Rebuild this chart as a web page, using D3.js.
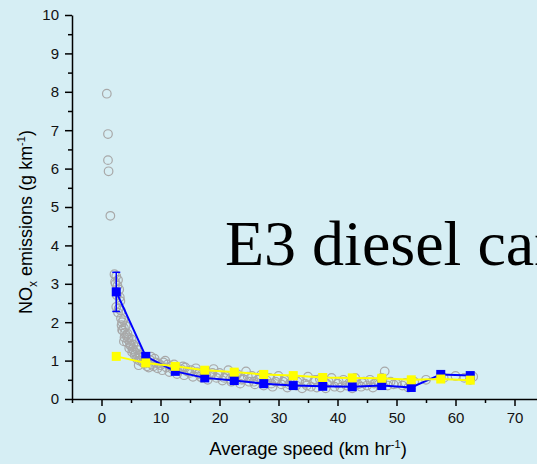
<!DOCTYPE html>
<html lang="en">
<head>
    <meta charset="utf-8" />
    <title>NOx emissions vs average speed</title>
    <script src="https://d3js.org/d3.v7.min.js"></script>
    <style>
        body {
            margin: 0;
            padding: 0;
            background-color: #d6eef4;
            overflow: hidden;
        }
    </style>
</head>
<body>
<svg id="chart"></svg>
<script>
    var w = 537;
    var h = 464;

    // Individual measurements (grey circles)
    var pointSpeed = [0.9, 1.1, 1.1, 1.2, 1.5, 2.2, 2.5, 2.8, 2.4, 3.0, 2.6, 3.2, 2.5, 2.8, 3.3, 3.5, 3.4, 3.8, 3.6, 4.0,
        4.2, 3.9, 4.5, 4.3, 4.8, 5.0, 4.7, 5.3, 5.5, 5.8, 5.6, 6.2, 6.0, 6.5, 6.8, 7.0, 6.3, 7.3, 7.8, 8.2,
        8.5, 8.8, 9.2, 9.5, 10.0, 10.3, 10.8, 11.0, 11.5, 12.0, 12.3, 12.8, 13.2, 13.8, 14.0, 14.5, 15.0, 15.5, 16.0, 16.5,
        17.0, 17.5, 18.0, 18.5, 19.0, 19.5, 20.0, 20.5, 21.0, 21.5, 22.0, 22.5, 23.0, 23.5, 24.0, 24.5, 25.0, 25.5, 26.0, 26.5,
        27.0, 27.5, 28.0, 28.5, 29.0, 29.5, 30.0, 30.5, 31.0, 31.5, 32.0, 32.5, 33.0, 33.5, 34.0, 34.5, 35.0, 35.5, 36.0, 36.5,
        37.0, 37.5, 38.0, 38.5, 39.0, 39.5, 40.0, 40.5, 41.0, 41.5, 42.0, 42.5, 43.0, 43.5, 44.0, 44.5, 45.0, 45.5, 46.0, 46.5,
        47.0, 47.5, 48.0, 48.5, 49.0, 50.0, 51.0, 52.0, 53.0, 55.0, 58.0, 60.0, 61.5, 62.5, 63.0,
        2.3, 2.7, 3.1, 2.9, 3.3, 3.7, 3.5, 4.1, 4.4, 3.8, 4.6, 5.1, 4.9, 5.4, 5.9, 5.2, 6.1, 6.6, 6.4, 7.1,
        7.5, 7.7, 8.0, 8.4, 9.0, 9.7, 10.5, 11.2, 11.8, 12.6, 13.5, 14.2, 15.2, 16.2, 16.8, 17.8, 18.8, 19.8, 20.8, 21.8,
        22.8, 23.8, 24.8, 25.8, 26.8, 27.8, 28.8, 29.8, 30.8, 31.8, 33.2, 34.8, 36.2, 38.2, 40.2, 42.2, 44.2, 46.2, 49.5, 51.5];
    var pointNox = [7.95, 6.9, 6.22, 5.93, 4.77, 3.25, 3.2, 3.1, 3.0, 2.85, 2.7, 2.55, 2.4, 2.25, 2.1, 2.0, 1.92, 1.85, 1.78, 1.72,
        1.65, 1.6, 1.55, 1.48, 1.45, 1.38, 1.32, 1.3, 1.25, 1.2, 1.15, 1.12, 1.05, 1.08, 1.0, 0.95, 0.88, 0.92, 0.98, 1.02,
        0.9, 0.85, 0.95, 0.8, 0.88, 0.75, 1.0, 0.82, 0.7, 0.78, 0.9, 0.65, 0.75, 0.85, 0.62, 0.72, 0.68, 0.58, 0.8, 0.65,
        0.55, 0.72, 0.5, 0.62, 0.78, 0.55, 0.68, 0.48, 0.6, 0.75, 0.45, 0.58, 0.65, 0.4, 0.52, 0.72, 0.45, 0.6, 0.38, 0.5,
        0.62, 0.35, 0.48, 0.55, 0.32, 0.45, 0.6, 0.38, 0.5, 0.3, 0.42, 0.55, 0.35, 0.48, 0.28, 0.4, 0.58, 0.32, 0.45, 0.3,
        0.52, 0.38, 0.28, 0.45, 0.55, 0.32, 0.4, 0.3, 0.5, 0.35, 0.42, 0.28, 0.55, 0.38, 0.32, 0.45, 0.35, 0.5, 0.3, 0.42,
        0.38, 0.55, 0.72, 0.35, 0.45, 0.4, 0.35, 0.3, 0.45, 0.5, 0.55, 0.6, 0.55, 0.5, 0.58,
        3.05, 2.95, 2.65, 2.35, 2.3, 2.05, 1.8, 1.9, 1.7, 1.5, 1.6, 1.55, 1.4, 1.42, 1.35, 1.22, 1.28, 1.15, 1.0, 1.1,
        1.05, 0.85, 0.82, 1.1, 1.05, 0.92, 0.95, 0.9, 0.85, 0.8, 0.78, 0.82, 0.75, 0.7, 0.58, 0.6, 0.68, 0.62, 0.55, 0.52,
        0.62, 0.5, 0.58, 0.45, 0.55, 0.42, 0.4, 0.52, 0.45, 0.38, 0.45, 0.35, 0.5, 0.4, 0.45, 0.38, 0.42, 0.4, 0.38, 0.42];

    // Binned averages (squares)
    var binSpeed = [2.5, 7.5, 12.5, 17.5, 22.5, 27.5, 32.5, 37.5, 42.5, 47.5, 52.5, 57.5, 62.5];
    var blueNox = [2.79, 1.11, 0.72, 0.55, 0.48, 0.40, 0.35, 0.33, 0.32, 0.35, 0.30, 0.64, 0.61];
    var blueErr = [0.51, 0.08, 0.06, 0.05, 0.04, 0.04, 0.03, 0.03, 0.03, 0.05, 0.03, 0.03, 0.02];
    var yellowNox = [1.11, 0.94, 0.85, 0.75, 0.70, 0.64, 0.61, 0.56, 0.55, 0.54, 0.50, 0.52, 0.49];

    // Tick values
    var xTicks = [0, 10, 20, 30, 40, 50, 60, 70];
    var yTicks = [0, 1, 2, 3, 4, 5, 6, 7, 8, 9, 10];

    var svg = d3.select("#chart")
                .attr("width", w)
                .attr("height", h)
                .style("font-family", "Arial, 'Liberation Sans', sans-serif");

    var xScale = d3.scaleLinear()
                .domain([-5, 80])
                .range([72, 573.5]);

    var yScale = d3.scaleLinear()
                .domain([0, 10])
                .range([399, 15]);

    // Y axis with major and minor ticks
    svg.append("g")
        .attr("transform", "translate(72,0)")
        .call(d3.axisLeft(yScale).tickValues(d3.range(0.5, 10, 1)).tickSize(4).tickFormat(""))
        .call(function(g) { g.select(".domain").remove(); });
    svg.append("g")
        .attr("transform", "translate(72,0)")
        .call(d3.axisLeft(yScale).tickValues(yTicks).tickSize(7).tickSizeOuter(0).tickPadding(6));

    // X axis with major and minor ticks
    svg.append("g")
        .attr("transform", "translate(0,399)")
        .call(d3.axisBottom(xScale).tickValues(d3.range(-5, 80, 10)).tickSize(4).tickFormat(""))
        .call(function(g) { g.select(".domain").remove(); });
    svg.append("g")
        .attr("transform", "translate(0,399)")
        .call(d3.axisBottom(xScale).tickValues(xTicks).tickSize(7).tickSizeOuter(0).tickPadding(6));

    svg.selectAll("g").attr("font-family", null);
    svg.selectAll(".tick line").attr("stroke", "black").attr("stroke-width", 1.5);
    svg.selectAll(".domain").attr("stroke", "black").attr("stroke-width", 1.5);
    svg.selectAll(".tick text").attr("font-size", "15px").attr("fill", "#111");

    // Grey measurement circles
    svg.append("g").selectAll("circle")
        .data(d3.range(pointSpeed.length))
        .enter().append("circle")
        .attr("cx", function(i) { return xScale(pointSpeed[i]); })
        .attr("cy", function(i) { return yScale(pointNox[i]); })
        .attr("r", 4.3)
        .attr("fill", "none")
        .attr("stroke", "#a8a8a8")
        .attr("stroke-width", 1.2);

    var sq = 9;

    var blueLine = d3.line()
        .x(function(i) { return xScale(binSpeed[i]); })
        .y(function(i) { return yScale(blueNox[i]); });
    var yellowLine = d3.line()
        .x(function(i) { return xScale(binSpeed[i]); })
        .y(function(i) { return yScale(yellowNox[i]); });
    var idx = d3.range(binSpeed.length);

    // Blue series with error bars
    var err = svg.append("g").attr("stroke", "#0000ff").attr("stroke-width", 1.5);
    idx.forEach(function(i) {
        var x = xScale(binSpeed[i]);
        var y1 = yScale(blueNox[i] + blueErr[i]);
        var y2 = yScale(blueNox[i] - blueErr[i]);
        err.append("line").attr("x1", x).attr("x2", x).attr("y1", y1).attr("y2", y2);
        err.append("line").attr("x1", x - 4).attr("x2", x + 4).attr("y1", y1).attr("y2", y1);
        err.append("line").attr("x1", x - 4).attr("x2", x + 4).attr("y1", y2).attr("y2", y2);
    });

    svg.append("path")
        .attr("d", blueLine(idx))
        .attr("fill", "none")
        .attr("stroke", "#0000ff")
        .attr("stroke-width", 2);

    svg.append("g").selectAll("rect")
        .data(idx)
        .enter().append("rect")
        .attr("x", function(i) { return xScale(binSpeed[i]) - sq / 2; })
        .attr("y", function(i) { return yScale(blueNox[i]) - sq / 2; })
        .attr("width", sq)
        .attr("height", sq)
        .attr("fill", "#0000ff");

    // Yellow series
    svg.append("path")
        .attr("d", yellowLine(idx))
        .attr("fill", "none")
        .attr("stroke", "#ffff00")
        .attr("stroke-width", 2);

    svg.append("g").selectAll("rect")
        .data(idx)
        .enter().append("rect")
        .attr("x", function(i) { return xScale(binSpeed[i]) - sq / 2; })
        .attr("y", function(i) { return yScale(yellowNox[i]) - sq / 2; })
        .attr("width", sq)
        .attr("height", sq)
        .attr("fill", "#ffff00");

    // Axis titles
    var yTitle = svg.append("text")
        .attr("transform", "translate(32,222) rotate(-90)")
        .attr("text-anchor", "middle")
        .attr("font-size", "18px");
    yTitle.append("tspan").text("NO");
    yTitle.append("tspan").attr("font-size", "12px").attr("dy", "5").text("x");
    yTitle.append("tspan").attr("dy", "-5").text(" emissions (g km");
    yTitle.append("tspan").attr("font-size", "11px").attr("dy", "-7").text("-1");
    yTitle.append("tspan").attr("dy", "7").text(")");

    var xTitle = svg.append("text")
        .attr("x", 308)
        .attr("y", 455)
        .attr("text-anchor", "middle")
        .attr("font-size", "18.5px");
    xTitle.append("tspan").text("Average speed (km hr");
    xTitle.append("tspan").attr("font-size", "11px").attr("dy", "-7").text("-1");
    xTitle.append("tspan").attr("dy", "7").text(")");

    // Big title, running off the right edge as in the original slide
    svg.append("text")
        .attr("x", 225)
        .attr("y", 265)
        .style("font-family", "'Liberation Serif', 'Times New Roman', serif")
        .attr("font-size", "64px")
        .attr("fill", "black")
        .text("E3 diesel car");
</script>
</body>
</html>
